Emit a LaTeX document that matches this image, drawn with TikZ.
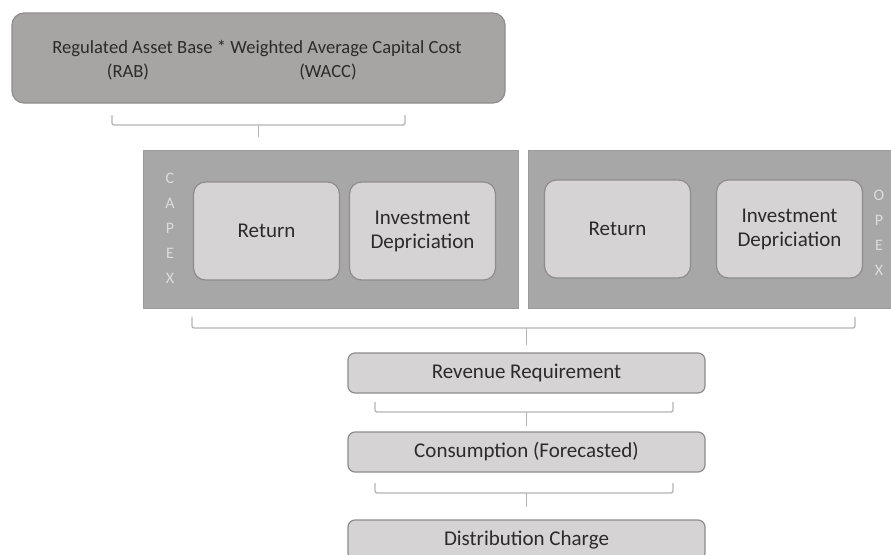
\documentclass[tikz,border=0pt]{standalone}
\usepackage{fontspec}
\setmainfont{Carlito}
\definecolor{topfill}{HTML}{A7A5A4}
\definecolor{topedge}{HTML}{8F8D8C}
\definecolor{panelfill}{HTML}{A8A7A7}
\definecolor{paneledge}{HTML}{9C9B9B}
\definecolor{itemfill}{HTML}{D5D3D3}
\definecolor{itemedge}{HTML}{8E8C8C}
\definecolor{txt}{HTML}{2B2B2B}
\definecolor{sidetxt}{HTML}{DCDCDC}
\definecolor{brk}{HTML}{B4B4B4}
\begin{document}
\begin{tikzpicture}[x=1pt,y=-1pt,
  topbox/.style={draw=topedge, fill=topfill, rounded corners=12pt, line width=1.2pt, inner sep=0pt},
  panel/.style={draw=paneledge, fill=panelfill, line width=1pt, inner sep=0pt},
  itembox/.style={draw=itemedge, fill=itemfill, rounded corners=12pt, line width=1.2pt,
    text=txt, font=\fontsize{21}{24}\selectfont, align=center, inner sep=0pt,
    minimum width=146pt, minimum height=98pt},
  stepbar/.style={draw=itemedge, fill=itemfill, rounded corners=7pt, line width=1.2pt,
    text=txt, font=\fontsize{21}{24}\selectfont, inner sep=0pt,
    minimum width=357pt, minimum height=40pt},
  toptext/.style={text=txt, font=\fontsize{18.6}{22}\selectfont, inner sep=0pt},
  bracket/.style={draw=brk, line width=1.3pt, rounded corners=2pt},
  sideletters/.style={text=sidetxt, font=\fontsize{16}{25}\selectfont, align=center, inner sep=0pt}
]
\useasboundingbox (0,0) rectangle (891,554);

% formula box
\node[topbox, minimum width=493pt, minimum height=90pt] (formula) at (258.5,58) {};
\node[toptext] (formulaline) at (257,48) {Regulated Asset Base * Weighted Average Capital Cost};
\node[toptext] (rab) at (128,72) {(RAB)};
\node[toptext] (wacc) at (328,72) {(WACC)};

% CAPEX and OPEX panels
\node[panel, minimum width=375pt, minimum height=158pt] (capex) at (330.5,229) {};
\node[panel, minimum width=375pt, minimum height=158pt] (opex) at (715.5,229) {};
\node[sideletters] (capexlabel) at (170,228) {C\\A\\P\\E\\X};
\node[sideletters] (opexlabel) at (879,233) {O\\P\\E\\X};

\node[itembox] (capret) at (266.5,231) {Return};
\node[itembox] (capdep) at (422.5,231) {Investment\\Depriciation};
\node[itembox] (opret) at (617.5,229) {Return};
\node[itembox] (opdep) at (789.5,229) {Investment\\Depriciation};

% calculation chain
\node[stepbar] (revenue) at (526.5,373) {Revenue Requirement};
\node[stepbar] (consumption) at (526.5,452) {Consumption (Forecasted)};
\node[stepbar] (distribution) at (526.5,540) {Distribution Charge};

% brackets gathering each stage into the next
\coordinate (b1l) at (112,115);
\coordinate (b1r) at (405,115);
\draw[bracket] (b1l) -- ++(0,10) -| (b1r);
\draw[bracket] (formula.south |- 0,125) -- (formula.south |- 0,137);

\coordinate (b2l) at (192,317);
\coordinate (b2r) at (855,317);
\draw[bracket] (b2l) -- ++(0,11) -| (b2r);
\draw[bracket] (revenue.north |- 0,328) -- (revenue.north |- 0,345);

\coordinate (b3l) at (375,402);
\coordinate (b3r) at (673,402);
\draw[bracket] (b3l) -- ++(0,10) -| (b3r);
\draw[bracket] (revenue.south |- 0,412) -- (revenue.south |- 0,426);

\coordinate (b4l) at (375,483);
\coordinate (b4r) at (673,483);
\draw[bracket] (b4l) -- ++(0,10) -| (b4r);
\draw[bracket] (consumption.south |- 0,493) -- (consumption.south |- 0,507);
\end{tikzpicture}
\end{document}
